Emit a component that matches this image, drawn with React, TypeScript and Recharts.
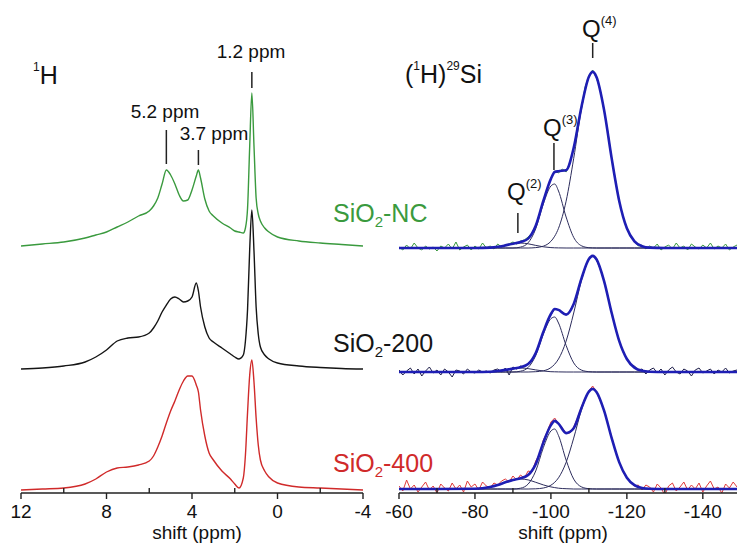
import React from 'react';
import { LineChart, Line, XAxis, YAxis, ReferenceLine } from 'recharts';

// ---------- 1H spectra (left) ----------
const hShift = [12, 11, 10, 9, 8.5, 8, 7.5, 7, 6.5, 6, 5.8, 5.6, 5.4, 5.2, 5.0, 4.8, 4.6, 4.4, 4.2, 4.0, 3.8, 3.7, 3.6, 3.4, 3.2, 3.0, 2.6, 2.2, 2.0, 1.8, 1.6, 1.5, 1.4, 1.3, 1.2, 1.1, 1.0, 0.9, 0.8, 0.6, 0.4, 0, -1, -2, -3, -4];
const hNC = [0, 2, 4, 8, 11, 14, 19, 24, 30, 35, 40, 48, 62, 76, 71, 62, 51, 45, 46, 56, 70, 76, 68, 47, 35, 30, 23, 18, 15, 14, 13, 18, 38, 100, 153, 100, 48, 32, 25, 18, 14, 9, 5, 3, 1.5, 0];
const h200 = [0, 1, 3, 7, 12, 19, 28, 31, 32, 36, 41, 48, 57, 64, 70, 72, 70, 67, 68, 72, 86, 78, 62, 42, 31, 27, 21, 15, 12, 10, 14, 28, 60, 120, 159, 118, 62, 35, 22, 14, 10, 6, 3, 1.5, 0.5, 0];
const h400 = [0, 1, 2, 6, 11, 18, 22, 23, 25, 29, 34, 43, 54, 67, 79, 89, 100, 109, 114, 114, 105, 98, 80, 54, 37, 30, 19, 11, 6, 2, 12, 35, 78, 115, 130, 108, 72, 45, 30, 19, 13, 7, 3, 2, 1, 0];
const hStackOffset = [247, 124, 3];
const hTicks = [12, 10, 8, 6, 4, 2, 0, -2, -4];
const hMajor = [12, 8, 4, 0, -4];

// ---------- (1H)29Si spectra (right) ----------
const siObsShift = [-60, -61, -62, -63, -64, -65, -66, -67, -68, -69, -70, -71, -72, -73, -74, -75, -76, -77, -78, -79, -80, -81, -82, -83, -84, -85, -86, -87, -88, -89, -90, -91, -92, -93, -94, -95, -96, -97, -98, -99, -100, -101, -102, -103, -104, -105, -106, -107, -108, -109, -110, -111, -112, -113, -114, -115, -116, -117, -118, -119, -120, -121, -122, -123, -124, -125, -126, -127, -128, -129, -130, -131, -132, -133, -134, -135, -136, -137, -138, -139, -140, -141, -142, -143, -144, -145, -146, -147, -148, -149, -150];
const obsNC = [1, -2, 3, -1, 5, 0, -2, 2, -1, 1, -3, 2, 0, 4, -1, 6, -2, 1, 3, -2, 2, -1, 5, 0, 2, -1, 4, 1, 3, 4, 6, 4, 7, 8, 11, 15, 23, 33, 48, 58, 70, 77, 75, 79, 76, 86, 99, 122, 139, 161, 172, 178, 170, 158, 138, 116, 90, 68, 46, 31, 20, 11, 7, 2, 3, -1, 2, 0, 4, -2, 1, 3, -1, 5, 0, 2, -2, 4, 1, -1, 3, 0, 5, -1, 2, 0, 4, -2, 1, 3, 0];
const obs200 = [2, -3, 1, 4, -2, 3, -4, 1, 5, -1, 2, -3, 3, 0, -5, 2, 1, -2, 3, 0, -1, 2, 0, 1, -1, 2, 3, 0, 4, -3, 5, 3, 6, 5, 9, 12, 19, 28, 40, 50, 57, 63, 62, 60, 57, 61, 68, 80, 93, 104, 113, 117, 112, 103, 91, 76, 59, 44, 31, 20, 13, 7, 6, 2, 3, -2, 2, 4, -1, 3, -3, 2, 5, 0, -2, 3, 1, -4, 2, 4, -1, 1, 3, -2, 2, 0, 4, -1, 1, 2, 0];
const obs400 = [3, -2, 9, 0, 4, -3, 2, 7, -1, 3, -4, 5, 1, -2, 6, 0, 4, -3, 8, 2, 5, -1, 7, 3, 1, 6, 4, 8, 10, 7, 13, 9, 14, 11, 18, 17, 28, 35, 49, 57, 67, 71, 65, 61, 56, 56, 62, 71, 82, 91, 98, 103, 97, 88, 79, 65, 52, 38, 27, 17, 11, 6, 3, 4, -1, 4, 2, -3, 5, 1, -6, 3, 6, -2, 2, 7, -1, 4, 0, 6, -3, 3, 8, 0, 2, -4, 5, 1, 7, 2, 3];

const siFitShift = [-60, -70, -80, -84, -86, -88, -90, -92, -94, -96, -98, -100, -101, -102, -104, -106, -108, -110, -111, -112, -114, -116, -118, -120, -122, -124, -126, -130, -140, -150];
const q2NC = [0, 0, 0, 0.4, 1.2, 2.6, 4.2, 5, 4.2, 2.6, 1.2, 0.4, 0.2, 0.1, 0, 0, 0, 0, 0, 0, 0, 0, 0, 0, 0, 0, 0, 0, 0, 0];
const q3NC = [0, 0, 0, 0, 0, 0, 0, 0.9, 5.2, 19.2, 44, 62, 64, 57, 31, 10.6, 2.3, 0.3, 0.1, 0, 0, 0, 0, 0, 0, 0, 0, 0, 0, 0];
const q4NC = [0, 0, 0, 0, 0, 0, 0, 0, 0, 0.4, 1.8, 6.7, 11.8, 19.7, 46.8, 89.6, 138, 171, 176, 171, 138, 89.6, 46.8, 19.7, 6.7, 1.8, 0.4, 0, 0, 0];
const fitNC = [0, 0, 0, 0.4, 1.2, 2.6, 4.2, 5.9, 9.4, 22.2, 47, 69.1, 76, 76.8, 77.8, 100.2, 140.3, 171.3, 176.1, 171, 138, 89.6, 46.8, 19.7, 6.7, 1.8, 0.4, 0, 0, 0];
const q2_200 = [0, 0, 0, 0.3, 1, 2.1, 3.4, 4, 3.4, 2.1, 1, 0.3, 0.2, 0.1, 0, 0, 0, 0, 0, 0, 0, 0, 0, 0, 0, 0, 0, 0, 0, 0];
const q3_200 = [0, 0, 0, 0, 0, 0, 0, 0.8, 4.5, 16.5, 37.8, 53.3, 55, 49, 26.6, 9.1, 2, 0.3, 0.1, 0, 0, 0, 0, 0, 0, 0, 0, 0, 0, 0];
const q4_200 = [0, 0, 0, 0, 0, 0, 0, 0, 0, 0.3, 1.2, 4.4, 7.8, 13, 30.8, 59, 90.9, 112.7, 116, 112.7, 90.9, 59, 30.8, 13, 4.4, 1.2, 0.3, 0, 0, 0];
const fit200 = [0, 0, 0, 0.3, 1, 2.1, 3.4, 4.8, 7.9, 18.9, 40, 58, 63, 62.1, 57.4, 68.1, 92.9, 113, 116.1, 112.7, 90.9, 59, 30.8, 13, 4.4, 1.2, 0.3, 0, 0, 0];
const q2_400 = [0, 0, 0.3, 2.1, 4.1, 6.7, 9.1, 10, 9.1, 6.7, 4.1, 2.1, 1.4, 0.8, 0.3, 0, 0, 0, 0, 0, 0, 0, 0, 0, 0, 0, 0, 0, 0, 0];
const q3_400 = [0, 0, 0, 0, 0, 0, 0, 0.8, 4.9, 18, 41.3, 58, 60, 53.4, 29, 9.9, 2.2, 0.3, 0.1, 0, 0, 0, 0, 0, 0, 0, 0, 0, 0, 0];
const q4_400 = [0, 0, 0, 0, 0, 0, 0, 0, 0, 0.2, 1, 3.8, 6.7, 11.2, 26.6, 50.9, 78.4, 97.1, 100, 97.1, 78.4, 50.9, 26.6, 11.2, 3.8, 1, 0.2, 0, 0, 0];
const fit400 = [0, 0, 0.3, 2.1, 4.1, 6.7, 9.1, 10.8, 14, 24.9, 46.4, 63.9, 68.1, 65.4, 55.9, 60.8, 80.6, 97.4, 100.1, 97.1, 78.4, 50.9, 26.6, 11.2, 3.8, 1, 0.2, 0, 0, 0];
const siStackOffset = [245, 121, 4];
const siTicks = [-60, -70, -80, -90, -100, -110, -120, -130, -140];
const siMajor = [-60, -80, -100, -120, -140];

const FONT = '"Liberation Sans", Arial, Helvetica, sans-serif';
const GREEN = '#3a9a3e';
const RED = '#d02a2a';
const BLACK = '#151515';
const NAVY = '#1c1c48';
const FIT = '#1e1eb4';
const COMP = '#2c2c5c';

const build = (shift: number[], vals: number[], offset: number) =>
  shift.map((x, i) => ({ x, y: vals[i] + offset }));

const makeTick = (majors: number[]) => (props: any) => {
  const { x, y, payload } = props;
  const v = payload.value;
  const major = majors.includes(v);
  return (
    <g>
      <line x1={x} x2={x} y1={y} y2={major ? y + 6 : y - 5} stroke="#222" strokeWidth={1.4} />
      {major && (
        <text x={x} y={y + 25} textAnchor="middle" fontSize={19} fill="#111" fontFamily={FONT}>
          {String(v)}
        </text>
      )}
    </g>
  );
};

const lineProps = {
  type: 'monotone' as const,
  dataKey: 'y',
  dot: false,
  activeDot: false,
  isAnimationActive: false,
};

const PLOT_H = 493;

function LeftPanel() {
  return (
    <LineChart width={380} height={543} margin={{ top: 0, right: 17, left: 21, bottom: 0 }}>
      <XAxis
        type="number"
        dataKey="x"
        domain={[-4, 12]}
        reversed
        allowDataOverflow
        ticks={hTicks}
        interval={0}
        tick={makeTick(hMajor)}
        tickLine={false}
        tickSize={0}
        tickMargin={0}
        height={50}
        axisLine={{ stroke: '#222', strokeWidth: 1.5 }}
      />
      <YAxis hide type="number" domain={[0, PLOT_H]} allowDataOverflow />
      <Line {...lineProps} data={build(hShift, h400, hStackOffset[2])} stroke={RED} strokeWidth={1.4} />
      <Line {...lineProps} data={build(hShift, h200, hStackOffset[1])} stroke={BLACK} strokeWidth={1.4} />
      <Line {...lineProps} data={build(hShift, hNC, hStackOffset[0])} stroke={GREEN} strokeWidth={1.4} />
      <ReferenceLine segment={[{ x: 5.2, y: 329 }, { x: 5.2, y: 363 }]} stroke="#222" strokeWidth={1.5} />
      <ReferenceLine segment={[{ x: 3.7, y: 328 }, { x: 3.7, y: 343 }]} stroke="#222" strokeWidth={1.5} />
      <ReferenceLine segment={[{ x: 1.2, y: 405 }, { x: 1.2, y: 421 }]} stroke="#222" strokeWidth={1.5} />
    </LineChart>
  );
}

function RightPanel() {
  const series = [
    { obs: obsNC, q2: q2NC, q3: q3NC, q4: q4NC, fit: fitNC, color: GREEN, off: siStackOffset[0] },
    { obs: obs200, q2: q2_200, q3: q3_200, q4: q4_200, fit: fit200, color: NAVY, off: siStackOffset[1] },
    { obs: obs400, q2: q2_400, q3: q3_400, q4: q4_400, fit: fit400, color: '#e03a3a', off: siStackOffset[2] },
  ];
  return (
    <LineChart width={357} height={543} margin={{ top: 0, right: 0, left: 19, bottom: 0 }}>
      <XAxis
        type="number"
        dataKey="x"
        domain={[-149, -60]}
        reversed
        allowDataOverflow
        ticks={siTicks}
        interval={0}
        tick={makeTick(siMajor)}
        tickLine={false}
        tickSize={0}
        tickMargin={0}
        height={50}
        axisLine={{ stroke: '#222', strokeWidth: 1.5 }}
      />
      <YAxis hide type="number" domain={[0, PLOT_H]} allowDataOverflow />
      {series.map((s, i) => (
        <Line key={'o' + i} {...lineProps} type="linear" data={build(siObsShift, s.obs, s.off)} stroke={s.color} strokeWidth={1} />
      ))}
      {series.map((s, i) => [
        <Line key={'a' + i} {...lineProps} data={build(siFitShift, s.q2, s.off)} stroke={COMP} strokeWidth={1} />,
        <Line key={'b' + i} {...lineProps} data={build(siFitShift, s.q3, s.off)} stroke={COMP} strokeWidth={1} />,
        <Line key={'c' + i} {...lineProps} data={build(siFitShift, s.q4, s.off)} stroke={COMP} strokeWidth={1} />,
        <Line key={'f' + i} {...lineProps} data={build(siFitShift, s.fit, s.off)} stroke={FIT} strokeWidth={2.6} />,
      ])}
      <ReferenceLine segment={[{ x: -111, y: 435 }, { x: -111, y: 450 }]} stroke="#222" strokeWidth={1.5} />
      <ReferenceLine segment={[{ x: -100.8, y: 323 }, { x: -100.8, y: 350 }]} stroke="#222" strokeWidth={1.5} />
      <ReferenceLine segment={[{ x: -91.3, y: 260 }, { x: -91.3, y: 280 }]} stroke="#222" strokeWidth={1.5} />
    </LineChart>
  );
}

function Annotations() {
  const t = { fontFamily: FONT, fill: '#111' };
  return (
    <svg width={737} height={543} style={{ position: 'absolute', left: 0, top: 0, pointerEvents: 'none' }}>
      <text x={33} y={84} {...t} fontSize={25}>
        <tspan fontSize={12} dy={-13}>1</tspan>
        <tspan dy={13}>H</tspan>
      </text>
      <text x={165} y={118} {...t} fontSize={19} textAnchor="middle">5.2 ppm</text>
      <text x={214} y={140} {...t} fontSize={19} textAnchor="middle">3.7 ppm</text>
      <text x={251} y={58} {...t} fontSize={19} textAnchor="middle">1.2 ppm</text>

      <text x={333} y={222} fontFamily={FONT} fontSize={25} fill={GREEN}>
        SiO<tspan fontSize={15} dy={5}>2</tspan><tspan dy={-5}>-NC</tspan>
      </text>
      <text x={333} y={352} fontFamily={FONT} fontSize={25} fill={BLACK}>
        SiO<tspan fontSize={15} dy={5}>2</tspan><tspan dy={-5}>-200</tspan>
      </text>
      <text x={333} y={472} fontFamily={FONT} fontSize={25} fill={RED}>
        SiO<tspan fontSize={15} dy={5}>2</tspan><tspan dy={-5}>-400</tspan>
      </text>

      <text x={405} y={83} {...t} fontSize={25}>
        (<tspan fontSize={12} dy={-13}>1</tspan><tspan dy={13}>H)</tspan><tspan fontSize={12} dy={-13}>29</tspan><tspan dy={13}>Si</tspan>
      </text>
      <text x={582} y={37} {...t} fontSize={24}>
        Q<tspan fontSize={13} dy={-12}>(4)</tspan>
      </text>
      <text x={543} y={136} {...t} fontSize={24}>
        Q<tspan fontSize={13} dy={-12}>(3)</tspan>
      </text>
      <text x={507} y={200} {...t} fontSize={24}>
        Q<tspan fontSize={13} dy={-12}>(2)</tspan>
      </text>

      <text x={197} y={539} {...t} fontSize={19} textAnchor="middle">shift (ppm)</text>
      <text x={563} y={539} {...t} fontSize={19} textAnchor="middle">shift (ppm)</text>
    </svg>
  );
}

export default function App() {
  return (
    <div style={{ position: 'absolute', left: 0, top: 0, width: 737, height: 543, background: '#fff', overflow: 'hidden' }}>
      <div style={{ position: 'absolute', left: 0, top: 0 }}>
        <LeftPanel />
      </div>
      <div style={{ position: 'absolute', left: 380, top: 0 }}>
        <RightPanel />
      </div>
      <Annotations />
    </div>
  );
}
